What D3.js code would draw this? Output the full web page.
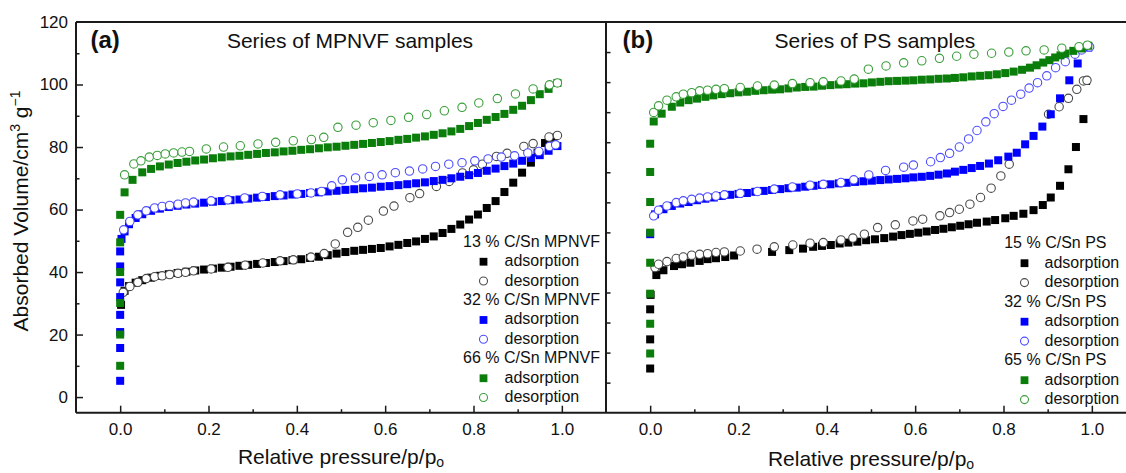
<!DOCTYPE html>
<html><head><meta charset="utf-8">
<script src="https://cdn.jsdelivr.net/npm/d3@7"></script>
<style>
body{margin:0;background:#fff}
svg{display:block;background:#fff}
text{font-family:"Liberation Sans",Arial,Helvetica,sans-serif;fill:#111}
</style>
</head><body>
<svg id="c" width="1126" height="473"></svg>
<script>
// ---------- DATA ----------
// Panel (a): Series of MPNVF samples  [p/p0, volume]
const mpBlackAds = [[0.002,29.5],[0.01,34],[0.02,35.5],[0.035,36.6],[0.05,37.4],[0.07,38.2],[0.09,38.8],[0.11,39.3],[0.13,39.7],[0.15,40.1],[0.17,40.5],[0.19,40.8],[0.21,41.1],[0.23,41.4],[0.25,41.7],[0.27,42],[0.29,42.3],[0.31,42.6],[0.33,42.9],[0.35,43.2],[0.37,43.5],[0.39,43.8],[0.41,44.1],[0.43,44.5],[0.45,44.9],[0.47,45.4],[0.49,45.9],[0.51,46.4],[0.53,46.8],[0.55,47.1],[0.57,47.4],[0.59,47.7],[0.61,48.2],[0.63,48.7],[0.65,49.3],[0.67,49.8],[0.69,50.6],[0.71,51.4],[0.73,52.5],[0.75,53.8],[0.77,55.2],[0.79,56.8],[0.81,58.4],[0.83,60.5],[0.85,62.7],[0.87,65.6],[0.89,68.6],[0.91,71.8],[0.93,75],[0.945,78.2],[0.962,81.3],[0.98,83]];
const mpBlackDes = [[0.007,33.5],[0.022,35.4],[0.04,36.7],[0.059,37.9],[0.078,38.5],[0.095,38.8],[0.112,39.2],[0.131,39.6],[0.148,39.9],[0.166,40.4],[0.206,41],[0.244,41.5],[0.283,42.2],[0.323,42.9],[0.362,43.6],[0.392,43.9],[0.432,44.8],[0.462,45.9],[0.487,49],[0.515,52.7],[0.538,54.3],[0.562,56.6],[0.596,59.5],[0.62,61.1],[0.656,63.8],[0.678,65.1],[0.716,67.4],[0.745,69],[0.775,71.7],[0.8,72.7],[0.82,74.5],[0.852,77],[0.876,78],[0.914,80.2],[0.935,81.1],[0.971,83.2],[0.99,83.7]];
const mpBlueAds = [[0,5.2],[0,15.7],[0,20.8],[0,26.3],[0,32],[0,36.7],[0,41.8],[0,46.6],[0.003,50.6],[0.01,53],[0.02,55.3],[0.035,57.3],[0.05,58.5],[0.07,59.6],[0.09,60.3],[0.11,60.8],[0.13,61.2],[0.15,61.6],[0.17,61.9],[0.19,62.2],[0.21,62.5],[0.23,62.7],[0.25,63],[0.27,63.2],[0.29,63.5],[0.31,63.8],[0.33,64],[0.35,64.3],[0.37,64.5],[0.39,64.8],[0.41,65],[0.43,65.3],[0.45,65.5],[0.47,65.8],[0.49,66],[0.51,66.3],[0.53,66.5],[0.55,66.8],[0.57,67],[0.59,67.3],[0.61,67.5],[0.63,67.8],[0.65,68.1],[0.67,68.4],[0.69,68.7],[0.71,69.1],[0.73,69.5],[0.75,70],[0.77,70.5],[0.79,71],[0.81,71.7],[0.83,72.4],[0.85,73.1],[0.87,73.9],[0.89,74.7],[0.91,75.6],[0.93,76.5],[0.95,77.4],[0.97,78.8],[0.99,80.3]];
const mpBlueDes = [[0.008,53.5],[0.022,56.2],[0.04,58.3],[0.059,59.6],[0.078,60.5],[0.095,61],[0.112,61.3],[0.131,61.7],[0.148,62.1],[0.166,62.4],[0.206,62.8],[0.244,63.1],[0.282,63.7],[0.322,64.2],[0.362,64.7],[0.401,65],[0.432,65.3],[0.456,65.8],[0.479,67.6],[0.503,69.5],[0.533,70.1],[0.564,70.6],[0.593,71.1],[0.623,71.8],[0.655,72.3],[0.685,73],[0.714,73.8],[0.744,74.5],[0.774,75],[0.803,75.6],[0.833,76.2],[0.863,76.8],[0.893,77.2],[0.923,78.1],[0.948,78.6],[0.972,80.2],[0.986,80.7]];
const mpGreenAds = [[0,10],[0,20],[0,30.1],[0,40],[0,49.5],[0,58.3],[0.01,65.5],[0.028,69.5],[0.05,71.9],[0.07,73],[0.09,73.8],[0.11,74.4],[0.13,74.9],[0.15,75.3],[0.17,75.7],[0.19,76],[0.21,76.4],[0.23,76.7],[0.25,77],[0.27,77.2],[0.29,77.5],[0.31,77.8],[0.33,78.1],[0.35,78.3],[0.37,78.6],[0.39,78.8],[0.41,79.1],[0.43,79.3],[0.45,79.6],[0.47,79.9],[0.49,80.1],[0.51,80.4],[0.53,80.7],[0.55,81],[0.57,81.3],[0.59,81.6],[0.61,81.9],[0.63,82.3],[0.65,82.6],[0.67,83],[0.69,83.4],[0.71,83.9],[0.73,84.4],[0.75,85],[0.77,85.8],[0.79,86.7],[0.81,87.7],[0.83,88.7],[0.85,89.6],[0.87,90.6],[0.89,91.9],[0.91,93.2],[0.93,95],[0.95,96.9],[0.97,98.6],[0.99,100.5]];
const mpGreenDes = [[0.01,71.1],[0.031,74.6],[0.047,75.6],[0.066,76.8],[0.084,77.3],[0.102,77.8],[0.121,78.1],[0.14,78.4],[0.157,78.6],[0.195,79.4],[0.234,80],[0.272,80.4],[0.312,81],[0.352,81.5],[0.392,82],[0.433,82.4],[0.461,83.1],[0.493,86.3],[0.534,87],[0.573,87.8],[0.613,88.5],[0.653,89.5],[0.694,90.4],[0.734,91.6],[0.774,92.7],[0.812,94.1],[0.854,95.5],[0.895,97],[0.935,98.6],[0.972,99.9],[0.99,100.5]];

// Panel (b): Series of PS samples  [p/p0, volume]
const psBlackAds = [[0,4.7],[0,14.4],[0,24.4],[0.001,29.2],[0.014,35.8],[0.03,37.4],[0.054,38.8],[0.072,39.4],[0.091,39.9],[0.112,40.5],[0.13,41.1],[0.149,41.4],[0.17,41.8],[0.19,42.3],[0.276,43.5],[0.315,44.1],[0.346,44.6],[0.369,45.2],[0.389,45.5],[0.409,45.8],[0.429,46.3],[0.449,46.6],[0.469,46.9],[0.489,47.4],[0.509,47.7],[0.53,48.1],[0.55,48.6],[0.569,49.1],[0.588,49.5],[0.607,49.9],[0.626,50.3],[0.645,50.8],[0.664,51.2],[0.683,51.7],[0.702,52.2],[0.721,52.7],[0.74,53.2],[0.762,53.6],[0.781,54.1],[0.804,54.7],[0.823,55.5],[0.845,56.2],[0.868,57.4],[0.889,59.1],[0.907,61.6],[0.928,65.5],[0.947,71],[0.964,78.4],[0.981,87.7],[0.987,100.4]];
const psBlackDes = [[0.011,38.3],[0.019,39.4],[0.038,40.3],[0.059,41.3],[0.075,41.8],[0.094,42.4],[0.112,42.7],[0.13,42.9],[0.149,43.3],[0.168,43.5],[0.204,43.8],[0.242,44.4],[0.281,45.2],[0.323,45.8],[0.362,46.4],[0.392,46.6],[0.432,47.5],[0.459,48.1],[0.485,49.4],[0.515,51.6],[0.555,52.5],[0.595,53.8],[0.617,54.4],[0.656,55.5],[0.678,56.6],[0.7,57.7],[0.724,59.4],[0.748,61.6],[0.772,64.7],[0.794,68.8],[0.813,72.7],[0.902,89.3],[0.926,91.8],[0.947,94.6],[0.966,97.6],[0.981,100.4],[0.989,100.6]];
const psBlueAds = [[0,49.4],[0.011,56],[0.03,57.7],[0.049,58.8],[0.068,59.6],[0.087,60.1],[0.106,60.7],[0.125,61.2],[0.144,61.6],[0.162,62.1],[0.181,62.5],[0.2,62.8],[0.219,63.1],[0.238,63.5],[0.257,63.8],[0.276,64.1],[0.294,64.4],[0.313,64.7],[0.332,64.9],[0.351,65.2],[0.37,65.5],[0.389,65.8],[0.408,66],[0.427,66.3],[0.445,66.5],[0.464,66.8],[0.483,67],[0.502,67.2],[0.521,67.4],[0.54,67.6],[0.559,67.8],[0.578,68],[0.596,68.3],[0.615,68.5],[0.634,68.8],[0.653,69.2],[0.672,69.6],[0.69,70.2],[0.709,70.8],[0.728,71.4],[0.747,72.1],[0.767,72.9],[0.788,74],[0.811,75.2],[0.83,76.5],[0.849,79.3],[0.868,82.1],[0.888,85.2],[0.907,89.3],[0.928,94.6],[0.949,100.6],[0.968,106.2],[0.992,111.5]];
const psBlueDes = [[0.008,55.5],[0.019,57.4],[0.038,58.8],[0.059,59.9],[0.075,60.5],[0.094,61],[0.112,61.4],[0.13,61.8],[0.149,62.1],[0.168,62.5],[0.204,63],[0.243,63.6],[0.281,64.4],[0.322,65.1],[0.362,65.7],[0.392,66],[0.432,66.6],[0.461,67.5],[0.495,69.1],[0.533,70.6],[0.574,71.7],[0.596,72.4],[0.635,73.5],[0.657,74.9],[0.678,76.3],[0.7,78.4],[0.721,81.1],[0.74,83.9],[0.76,86.8],[0.779,89.5],[0.799,91.9],[0.818,94],[0.839,96],[0.858,98],[0.877,99.8],[0.898,102.1],[0.918,104.8],[0.94,106.8],[0.962,109.3],[0.977,110.7],[0.995,111.7]];
const psGreenAds = [[0,9.7],[0,19.6],[0,29.6],[0,39.9],[0,49.9],[0,60.1],[0,70.1],[0,79.5],[0.008,86.9],[0.026,89.5],[0.049,91.8],[0.068,93.2],[0.087,94],[0.106,94.5],[0.125,95.1],[0.143,95.6],[0.162,96],[0.181,96.3],[0.2,96.6],[0.219,96.8],[0.238,97.1],[0.257,97.3],[0.276,97.5],[0.294,97.6],[0.313,97.9],[0.332,98.2],[0.351,98.4],[0.37,98.5],[0.389,98.8],[0.408,99],[0.427,99.2],[0.445,99.3],[0.464,99.5],[0.483,99.6],[0.502,99.9],[0.521,100.1],[0.54,100.3],[0.559,100.4],[0.578,100.5],[0.596,100.6],[0.615,100.8],[0.634,100.9],[0.653,101.1],[0.672,101.2],[0.69,101.4],[0.709,101.6],[0.728,101.9],[0.747,102.1],[0.766,102.3],[0.785,102.6],[0.804,103],[0.823,103.5],[0.842,104.1],[0.86,104.8],[0.875,105.6],[0.89,106.5],[0.904,107.3],[0.917,108.2],[0.929,108.9],[0.94,109.5],[0.958,110.4],[0.977,111.2],[0.992,112.1]];
const psGreenDes = [[0.008,89.9],[0.019,92.1],[0.038,94],[0.059,95.1],[0.075,96],[0.094,96.5],[0.112,97.1],[0.13,97.3],[0.149,97.6],[0.168,97.8],[0.204,98.2],[0.243,98.7],[0.281,99],[0.322,99.5],[0.362,99.8],[0.392,100.1],[0.432,100.4],[0.462,101],[0.494,104.3],[0.534,105.4],[0.574,106.4],[0.615,107.1],[0.655,107.9],[0.694,108.6],[0.733,109.3],[0.773,109.6],[0.812,110],[0.851,110.4],[0.892,110.7],[0.932,111.3],[0.971,111.8],[0.99,112.3]];

// Tick values / labels
const xMajorTicks = [0, 0.2, 0.4, 0.6, 0.8, 1.0];
const xMinorTicks = [0.1, 0.3, 0.5, 0.7, 0.9];
const yMajorTicksA = [0, 20, 40, 60, 80, 100, 120];
const yMinorTicksA = [10, 30, 50, 70, 90, 110];
const yTicksB = [0, 10, 20, 30, 40, 50, 60, 70, 80, 90, 100, 110];

// Text
const panelLetters = ["(a)", "(b)"];
const panelTitles = ["Series of MPNVF samples", "Series of PS samples"];
const mpLegendGroups = ["13 % C/Sn MPNVF", "32 % C/Sn MPNVF", "66 % C/Sn MPNVF"];
const psLegendGroups = ["15 % C/Sn PS", "32 % C/Sn PS", "65 % C/Sn PS"];
const legendItems = ["adsorption", "desorption"];

// ---------- STYLE ----------
const squareColors = ["#000000", "#0000ff", "#0b7d0b"];
const circleColors = ["#4a4a4a", "#4d4dff", "#3a9e3a"];
const AXIS = "#1a1a1a";

const svg = d3.select("#c");
svg.append("rect").attr("width",1126).attr("height",473).attr("fill","#fff");

const yTop = 22, yBot = 412.7;
const panels = [
  { x: d3.scaleLinear().domain([-0.1,1.1]).range([76,606]),
    y: d3.scaleLinear().domain([-5,120]).range([yBot,yTop]),
    series: [mpBlackAds, mpBlackDes, mpBlueAds, mpBlueDes, mpGreenAds, mpGreenDes],
    groups: mpLegendGroups, lg: {end:600, sym:483.5, text:504.5, base:246.8, step:19.42},
    letterX: 90.5, titleX: 350, labelX: 341, labelY: 463.5 },
  { x: d3.scaleLinear().domain([-0.1,1.1]).range([606,1136]),
    y: d3.scaleLinear().domain([-10,120]).range([yBot,yTop]),
    series: [psBlackAds, psBlackDes, psBlueAds, psBlueDes, psGreenAds, psGreenDes],
    groups: psLegendGroups, lg: {end:1106.5, sym:1024.5, text:1044.5, base:248.2, step:19.5},
    letterX: 622.5, titleX: 875, labelX: 871, labelY: 465.5 }
];

const SQ = 8, CR = 4.2;

panels.forEach((P, pi) => {
  const g = svg.append("g");
  P.series.forEach((data, si) => {
    const c = Math.floor(si/2);
    if (si % 2 === 0) {
      g.append("g").selectAll("rect").data(data).join("rect")
        .attr("x", d => P.x(d[0]) - SQ/2).attr("y", d => P.y(d[1]) - SQ/2)
        .attr("width", SQ).attr("height", SQ).attr("fill", squareColors[c]);
    } else {
      g.append("g").selectAll("circle").data(data).join("circle")
        .attr("cx", d => P.x(d[0])).attr("cy", d => P.y(d[1])).attr("r", CR)
        .attr("fill", "#fff").attr("stroke", circleColors[c]).attr("stroke-width", 1.1);
    }
  });

  const fontCfg = sel => sel.attr("font-family", '"Liberation Sans",Arial,sans-serif').attr("font-size", 17);
  const xAx = g.append("g").attr("transform", `translate(0,${yBot})`)
    .call(d3.axisBottom(P.x).tickValues(xMajorTicks).tickSizeInner(-7).tickSizeOuter(0).tickPadding(10).tickFormat(d3.format(".1f")))
    .call(fontCfg);
  xAx.select(".domain").remove();
  xAx.selectAll("line").attr("stroke", AXIS).attr("stroke-width", 1.5);
  xAx.selectAll("text").attr("fill", "#111");
  const xMin = g.append("g").attr("transform", `translate(0,${yBot})`)
    .call(d3.axisBottom(P.x).tickValues(xMinorTicks).tickSizeInner(-3.5).tickSizeOuter(0).tickFormat(""));
  xMin.select(".domain").remove();
  xMin.selectAll("line").attr("stroke", AXIS).attr("stroke-width", 1.5);

  const x0 = P.x.range()[0];
  if (pi === 0) {
    const yAx = g.append("g").attr("transform", `translate(${x0},0)`)
      .call(d3.axisLeft(P.y).tickValues(yMajorTicksA).tickSizeInner(-7).tickSizeOuter(0).tickPadding(8).tickFormat(d3.format("d")))
      .call(fontCfg);
    yAx.select(".domain").remove();
    yAx.selectAll("line").attr("stroke", AXIS).attr("stroke-width", 1.5);
    yAx.selectAll("text").attr("fill", "#111");
    yAx.selectAll(".tick").filter(d => d === 120).select("line").remove();
    const yMin = g.append("g").attr("transform", `translate(${x0},0)`)
      .call(d3.axisLeft(P.y).tickValues(yMinorTicksA).tickSizeInner(-3.5).tickSizeOuter(0).tickFormat(""));
    yMin.select(".domain").remove();
    yMin.selectAll("line").attr("stroke", AXIS).attr("stroke-width", 1.5);
  } else {
    const yAx = g.append("g").attr("transform", `translate(${x0},0)`)
      .call(d3.axisLeft(P.y).tickValues(yTicksB).tickSizeInner(-4.5).tickSizeOuter(0).tickFormat(""));
    yAx.select(".domain").remove();
    yAx.selectAll("line").attr("stroke", AXIS).attr("stroke-width", 1.5);
  }

  const [xl, xr] = P.x.range();
  g.append("line").attr("x1", xl).attr("x2", xr).attr("y1", yBot).attr("y2", yBot).attr("stroke", AXIS).attr("stroke-width", 2);
  g.append("line").attr("x1", xl).attr("x2", xr).attr("y1", yTop).attr("y2", yTop).attr("stroke", AXIS).attr("stroke-width", 2);
  g.append("line").attr("x1", xl).attr("x2", xl).attr("y1", yTop).attr("y2", yBot).attr("stroke", AXIS).attr("stroke-width", 2);

  g.append("text").attr("x", P.letterX).attr("y", 48).attr("font-size", 24).attr("font-weight", "bold").text(panelLetters[pi]);
  g.append("text").attr("x", P.titleX).attr("y", 48).attr("font-size", 21).attr("text-anchor", "middle").text(panelTitles[pi]);

  const xlab = g.append("text").attr("x", P.labelX).attr("y", P.labelY).attr("font-size", 21).attr("text-anchor", "middle");
  xlab.append("tspan").text("Relative pressure/p/p");
  xlab.append("tspan").attr("font-size", 14).attr("dy", 3.5).text("o");

  const L = P.lg;
  P.groups.forEach((name, gi) => {
    const b0 = L.base + L.step * gi * 3;
    g.append("text").attr("x", L.end).attr("y", b0).attr("font-size", 16).attr("text-anchor", "end").text(name);
    legendItems.forEach((item, ii) => {
      const b = b0 + L.step * (ii + 1);
      if (ii === 0) {
        g.append("rect").attr("x", L.sym - 3.9).attr("y", b - 4.5 - 3.9).attr("width", 7.8).attr("height", 7.8).attr("fill", squareColors[gi]);
      } else {
        g.append("circle").attr("cx", L.sym).attr("cy", b - 4.6).attr("r", 4).attr("fill", "#fff").attr("stroke", circleColors[gi]).attr("stroke-width", 1.1);
      }
      g.append("text").attr("x", L.text).attr("y", b).attr("font-size", 16).text(item);
    });
  });
});

const yl = svg.append("text").attr("transform", "translate(28,211) rotate(-90)").attr("font-size", 21).attr("text-anchor", "middle");
yl.append("tspan").text("Absorbed Volume/cm");
yl.append("tspan").attr("font-size", 14).attr("dy", -8).text("3");
yl.append("tspan").attr("dy", 8).text(" g");
yl.append("tspan").attr("font-size", 14).attr("dy", -8).text("\u22121");
</script>
</body></html>
